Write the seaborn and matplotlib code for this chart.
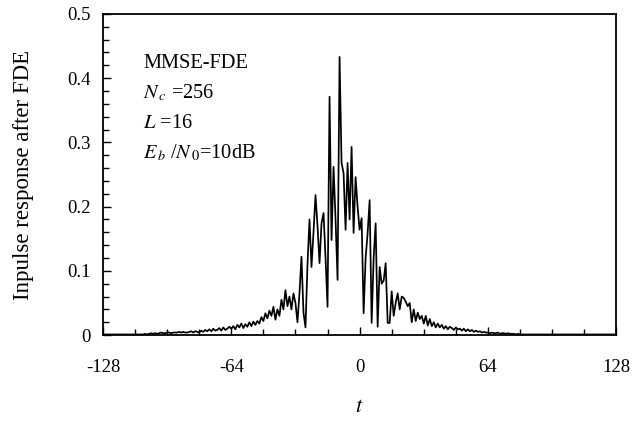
import numpy as np
import pandas as pd
import matplotlib
matplotlib.use("Agg")
import matplotlib.pyplot as plt
from matplotlib.ticker import MultipleLocator
import seaborn as sns

# ---- data ----
t_values = list(range(-128, 129))

resp_left_tail = [
    0.001, 0.001, 0.001, 0.001, 0.001, 0.001, 0.001, 0.001, 0.001, 0.001,
    0.001, 0.001, 0.001, 0.001, 0.001, 0.001, 0.001, 0.001, 0.001, 0.001,
    0.001, 0.002, 0.001, 0.002, 0.003, 0.002, 0.003, 0.002,
    0.003, 0.004, 0.003, 0.003, 0.004, 0.004, 0.003, 0.004, 0.004, 0.004,
    0.005, 0.004, 0.005, 0.004, 0.004, 0.005, 0.006, 0.004, 0.006, 0.005,
    0.004, 0.007, 0.005, 0.008, 0.006, 0.009, 0.006, 0.010, 0.007, 0.008,
    0.011, 0.007, 0.012, 0.008, 0.010, 0.013,
    0.010, 0.014, 0.009, 0.016, 0.012, 0.018, 0.011, 0.017, 0.013, 0.020,
    0.014, 0.021,
]

resp_center = [
    0.016, 0.022, 0.018, 0.028, 0.022, 0.034, 0.026, 0.038, 0.030, 0.044,  # -52..-43
    0.024, 0.040, 0.030, 0.055, 0.040, 0.070, 0.045, 0.060, 0.040, 0.065,  # -42..-33
    0.050, 0.020, 0.065, 0.122, 0.035, 0.012, 0.110, 0.180, 0.106, 0.160,  # -32..-23
    0.218, 0.170, 0.112, 0.174, 0.190, 0.120, 0.044, 0.371, 0.148, 0.262,  # -22..-13
    0.180, 0.086, 0.433, 0.268, 0.252, 0.164, 0.268, 0.180, 0.293, 0.159,  # -12..-3
    0.246, 0.200, 0.164, 0.182, 0.034, 0.120, 0.159, 0.210, 0.019, 0.120,  # -2..7
    0.174, 0.013, 0.106, 0.080, 0.085, 0.112, 0.019, 0.019, 0.068, 0.030,  # 8..17
    0.050, 0.065, 0.040, 0.060, 0.058, 0.052, 0.045, 0.050, 0.020, 0.040,  # 18..27
    0.022, 0.035, 0.025, 0.030, 0.018, 0.030, 0.015, 0.025, 0.014, 0.020,  # 28..37
    0.012, 0.018, 0.012, 0.016,                                            # 38..41
]

resp_right_tail = [
    0.010, 0.014, 0.009, 0.013, 0.011, 0.008, 0.012, 0.009, 0.010, 0.007,
    0.010, 0.006, 0.009, 0.006, 0.008, 0.005, 0.007, 0.005, 0.006, 0.004,
    0.005, 0.004,
    0.004, 0.003, 0.004, 0.003, 0.003, 0.004, 0.002, 0.003, 0.003, 0.002,
    0.003, 0.002, 0.002, 0.002, 0.001, 0.002, 0.001,
    0.001, 0.001, 0.001, 0.001, 0.001, 0.001, 0.001, 0.001, 0.001, 0.001,
    0.001, 0.001, 0.001, 0.001, 0.001, 0.001, 0.001, 0.001, 0.001, 0.001,
    0.001, 0.001, 0.001, 0.001, 0.001, 0.001, 0.001, 0.001, 0.001, 0.001,
    0.001, 0.001, 0.001, 0.001, 0.001, 0.001, 0.001, 0.001, 0.001, 0.001,
    0.001, 0.001, 0.001, 0.001, 0.001, 0.001, 0.001, 0.001,
]

x_ticks = [-128, -64, 0, 64, 128]
x_tick_labels = ["-128", "-64", "0", "64", "128"]
y_ticks = [0, 0.1, 0.2, 0.3, 0.4, 0.5]
y_tick_labels = ["0", "0.1", "0.2", "0.3", "0.4", "0.5"]

response = resp_left_tail + resp_center + resp_right_tail
df = pd.DataFrame({"t": t_values, "resp": response})

# ---- styling ----
sns.set_style("ticks")
plt.rcParams["font.family"] = ["Liberation Serif", "DejaVu Serif"]
plt.rcParams["mathtext.fontset"] = "stix"
plt.rcParams["text.color"] = "black"
plt.rcParams["axes.labelcolor"] = "black"
plt.rcParams["xtick.color"] = "black"
plt.rcParams["ytick.color"] = "black"

fig = plt.figure(figsize=(6.32, 4.21), dpi=100)
ax = fig.add_axes([0.163, 0.204, 0.812, 0.763])

sns.lineplot(data=df, x="t", y="resp", ax=ax, color="black", linewidth=1.25)

ax.set_xlim(-128, 128)
ax.set_ylim(0, 0.5)
ax.set_xticks(x_ticks)
ax.set_xticklabels(x_tick_labels)
ax.set_yticks(y_ticks)
ax.set_yticklabels(y_tick_labels)
ax.xaxis.set_minor_locator(MultipleLocator(16))
ax.yaxis.set_minor_locator(MultipleLocator(0.02))

ax.tick_params(axis="both", which="major", direction="in", length=6, width=1.0,
               labelsize=13.5, colors="black")
ax.tick_params(axis="both", which="minor", direction="in", length=4, width=1.0)
ax.tick_params(axis="x", which="major", pad=17)
ax.tick_params(axis="y", which="major", pad=9)
for sp in ax.spines.values():
    sp.set_visible(True)
    sp.set_linewidth(1.3)
    sp.set_color("black")

ax.set_xlabel("$t$", fontsize=16, labelpad=16)
ax.set_ylabel("Inpulse response after FDE", fontsize=16.5, labelpad=24)

fs = 14.7
ax.text(0.078, 0.832, "MMSE-FDE", transform=ax.transAxes, fontsize=fs, va="baseline")
ax.text(0.078, 0.737, r"$N_{\,c}$ =256", transform=ax.transAxes, fontsize=fs, va="baseline")
ax.text(0.078, 0.645, r"$L$ =16", transform=ax.transAxes, fontsize=fs, va="baseline")
ax.text(0.078, 0.551, r"$E_{\,b}$ /$N_{\,0}$=10dB", transform=ax.transAxes, fontsize=fs, va="baseline")

fig.savefig("out.png", dpi=100)
